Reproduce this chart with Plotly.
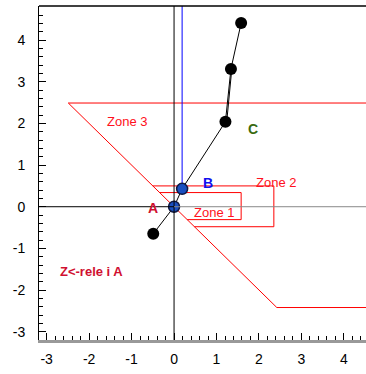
import plotly.graph_objects as go

# path points (impedance trajectory)
path_x = [-0.49, 0.0, 0.19, 1.21, 1.34, 1.58]
path_y = [-0.65, 0.0, 0.43, 2.04, 3.31, 4.41]
black_pts_x = [-0.49, 1.21, 1.34, 1.58]
black_pts_y = [-0.65, 2.04, 3.31, 4.41]
blue_pts_x = [0.0, 0.19]
blue_pts_y = [0.0, 0.43]

# zones
zone3_x = [5.0, -2.49, 2.42, 5.0]
zone3_y = [2.49, 2.49, -2.42, -2.42]
zone2_x = [-0.5, 2.35, 2.35, 0.48]
zone2_y = [0.5, 0.5, -0.48, -0.48]
zone1_x = [-0.33, 1.58, 1.58, 0.31]
zone1_y = [0.34, 0.34, -0.31, -0.31]

tick_vals = [-3, -2, -1, 0, 1, 2, 3, 4]
tick_text = ["-3", "-2", "-1", "0", "1", "2", "3", "4"]

labels = [
    ("Zone 3", -1.1, 2.05, "#ff1020", False, 13),
    ("Zone 2", 2.4, 0.58, "#ff1020", False, 13),
    ("Zone 1", 0.94, -0.15, "#ff1020", False, 13),
    ("A", -0.49, -0.02, "#d01030", True, 14),
    ("B", 0.8, 0.58, "#1010ee", True, 14),
    ("C", 1.86, 1.87, "#3a6a10", True, 14),
    ("Z<-rele i A", -1.95, -1.56, "#d01030", True, 13),
]

xr = [-3.18, 4.52]
yr = [-3.2, 4.82]

fig = go.Figure()
for zx, zy in [(zone3_x, zone3_y), (zone2_x, zone2_y), (zone1_x, zone1_y)]:
    fig.add_trace(go.Scatter(x=zx, y=zy, mode="lines",
                             line=dict(color="red", width=1), hoverinfo="skip"))

# blue vertical line from B upward
fig.add_trace(go.Scatter(x=[blue_pts_x[1], blue_pts_x[1]], y=[blue_pts_y[1], yr[1]],
                         mode="lines", line=dict(color="blue", width=1)))

fig.add_trace(go.Scatter(x=path_x, y=path_y, mode="lines",
                         line=dict(color="black", width=1)))
fig.add_trace(go.Scatter(x=[path_x[3] + 0.03, path_x[4] + 0.02], y=[path_y[3], path_y[4]],
                         mode="lines", line=dict(color="black", width=1)))
fig.add_trace(go.Scatter(x=black_pts_x, y=black_pts_y, mode="markers",
                         marker=dict(color="black", size=12)))
fig.add_trace(go.Scatter(x=blue_pts_x, y=blue_pts_y, mode="markers",
                         marker=dict(color="#1a4fc0", size=11,
                                     line=dict(color="#101840", width=1.5))))

for t, x, y, c, b, s in labels:
    fig.add_annotation(x=x, y=y, text=f"<b>{t}</b>" if b else t, showarrow=False,
                       font=dict(color=c, size=s, family="Liberation Sans, Arial"))

# zero lines
fig.add_shape(type="line", xref="x", yref="paper", x0=0, x1=0, y0=0, y1=1,
              line=dict(color="black", width=1))
fig.add_shape(type="line", xref="x", yref="y", x0=xr[0], x1=0, y0=0, y1=0,
              line=dict(color="black", width=1))
fig.add_shape(type="line", xref="x", yref="y", x0=0, x1=xr[1], y0=0, y1=0,
              line=dict(color="#888888", width=1))
# top frame
fig.add_shape(type="line", xref="paper", yref="paper", x0=0, x1=1, y0=1, y1=1,
              line=dict(color="black", width=1.5))

axis_font = dict(size=14, color="black", family="Liberation Sans, Arial")
fig.update_layout(
    width=366, height=374,
    margin=dict(l=39, r=0, t=6, b=34, autoexpand=False),
    plot_bgcolor="white", paper_bgcolor="white",
    showlegend=False,
    xaxis=dict(range=xr, showgrid=False, zeroline=False, showline=True, automargin=False,
               linecolor="#999999", linewidth=3, ticks="inside", ticklen=7,
               tickcolor="black", tickvals=tick_vals, ticktext=tick_text,
               minor=dict(dtick=0.2, ticks="inside", ticklen=4, tickcolor="black"),
               tickfont=axis_font, ticklabelstandoff=4),
    yaxis=dict(range=yr, showgrid=False, zeroline=False, showline=True, automargin=False,
               linecolor="black", linewidth=1, ticks="inside", ticklen=7,
               tickcolor="black", tickvals=tick_vals, ticktext=tick_text,
               minor=dict(dtick=0.2, ticks="inside", ticklen=4, tickcolor="black"),
               tickfont=axis_font, ticklabelstandoff=10),
)
fig.write_html("out.html", config={"displayModeBar": False},
               post_script="document.body.style.margin='0';document.body.style.overflow='hidden';")
